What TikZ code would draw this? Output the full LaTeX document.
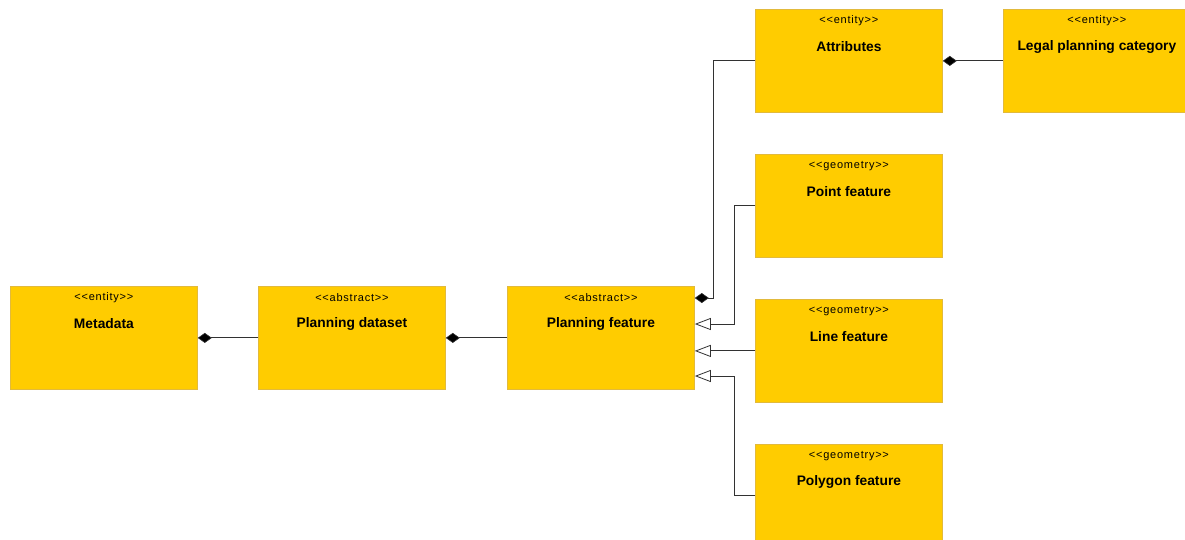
\documentclass[tikz,border=0pt]{standalone}
\usepackage{fontspec}
\setmainfont{Liberation Sans}
\newfontfamily\stfont[LetterSpace=7]{Liberation Sans}
\usetikzlibrary{arrows.meta}
\definecolor{classfill}{RGB}{255,204,0}
\definecolor{classedge}{RGB}{226,186,60}
\definecolor{linkcol}{RGB}{50,50,50}
\tikzset{
  x=1pt, y=-1pt,
  classbox/.style={rectangle, fill=classfill, draw=classedge, line width=0.8pt,
    minimum width=187pt, minimum height=103pt, anchor=north west, inner sep=0pt},
  stereo/.style={font=\stfont\fontsize{11}{13}\selectfont, inner sep=0pt},
  cname/.style={font=\bfseries\fontsize{13.8}{16}\selectfont, inner sep=0pt},
  link/.style={draw=linkcol, line width=0.9pt},
  comp/.style={link, -{Diamond[length=14pt, width=10pt, fill=black, line width=0.6pt]}},
  gen/.style={link, -{Triangle[open, length=16pt, width=12pt, fill=white, line width=0.8pt]}}
}
\newcommand{\umlclass}[5]{%
  \node[classbox] (#1) at (#2,#3) {};
  \node[stereo] (#1-st) at ([yshift=-12pt]#1.north) {#4};
  \node[cname] (#1-nm) at ([yshift=-38pt]#1.north) {#5};
}
\begin{document}
\begin{tikzpicture}
\clip (0,0) rectangle (1185,539);
\useasboundingbox (0,0) rectangle (1185,539);

\umlclass{md}{10}{286}{<<entity>>}{Metadata}
\umlclass{pd}{258}{286}{<<abstract>>}{Planning dataset}
\umlclass{pf}{507}{286}{<<abstract>>}{Planning feature}
\umlclass{at}{755}{9}{<<entity>>}{Attributes}
\umlclass{lp}{1003}{9}{<<entity>>}{Legal planning category}
\umlclass{pt}{755}{154}{<<geometry>>}{Point feature}
\umlclass{ln}{755}{299}{<<geometry>>}{Line feature}
\umlclass{pg}{755}{444}{<<geometry>>}{Polygon feature}

% compositions
\draw[comp] (pd.west) -- (md.east);
\draw[comp] (pf.west) -- (pd.east);
\draw[comp] (lp.west) -- (at.east);
\draw[comp] (at.west) -- ++(-42,0) |- ([yshift=-12pt]pf.north east);

% generalisations
\draw[gen] (pt.west) -- ++(-21,0) |- ([yshift=-38pt]pf.north east);
\draw[gen] (ln.west) -- (ln.west -| pf.east);
\draw[gen] (pg.west) -- ++(-21,0) |- ([yshift=-90pt]pf.north east);
\end{tikzpicture}
\end{document}
